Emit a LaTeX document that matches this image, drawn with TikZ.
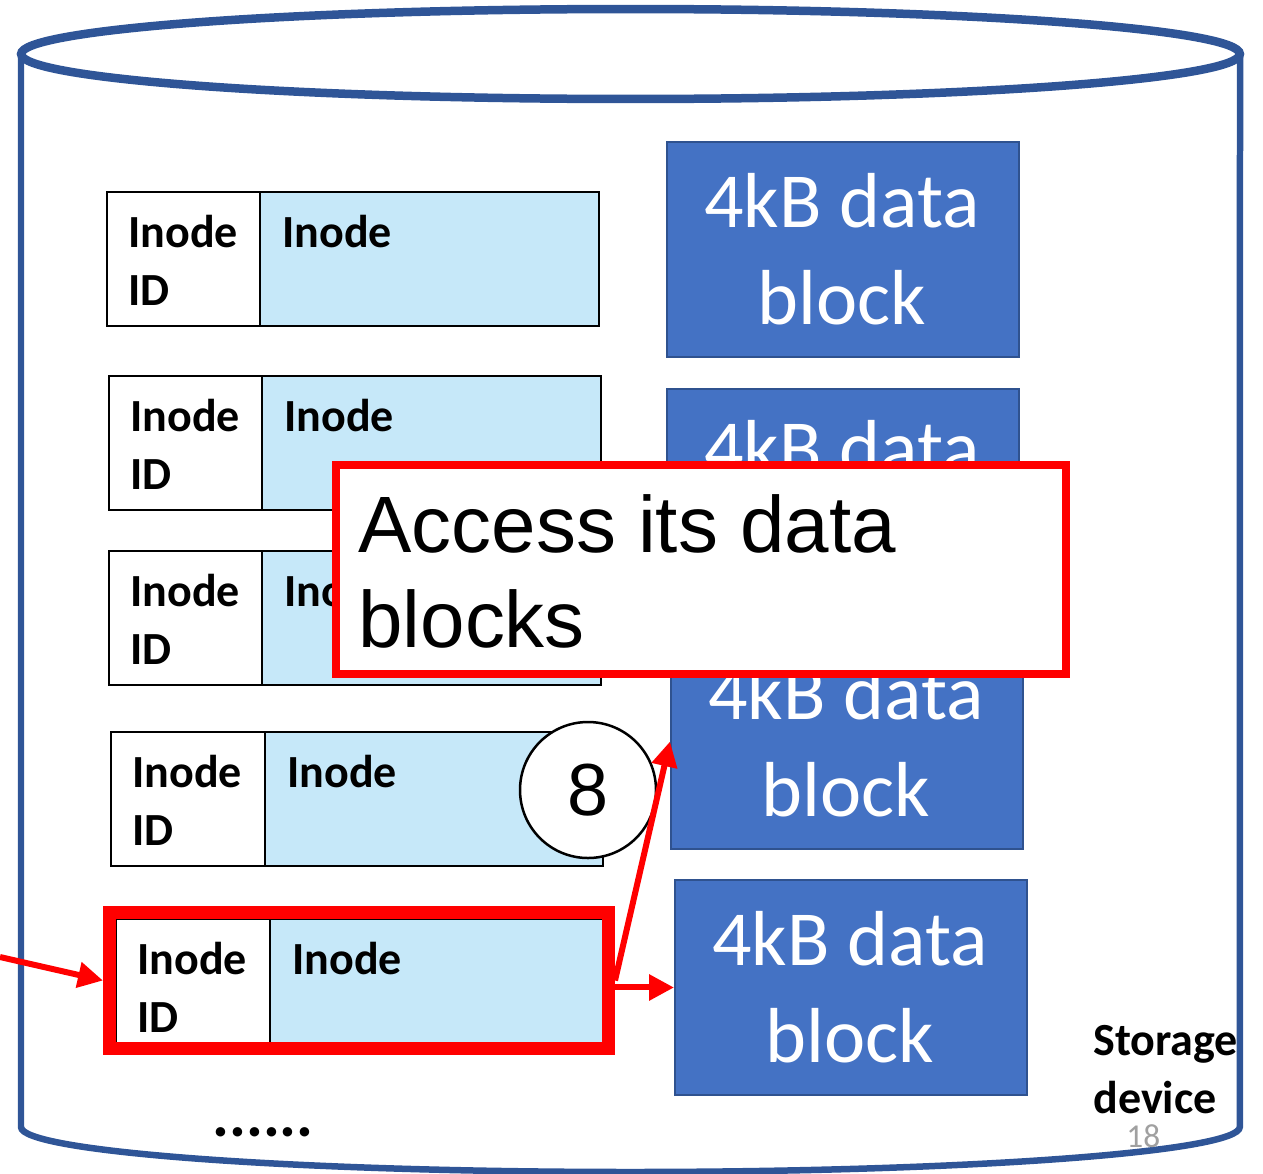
\documentclass[tikz,border=0pt]{standalone}
\usepackage{fontspec}
\setmainfont{Carlito}
\newfontfamily\arialfont{Liberation Sans}
\usetikzlibrary{arrows.meta,calc}
\definecolor{drumblue}{HTML}{2F5597}
\definecolor{blockfill}{HTML}{4472C4}
\definecolor{blockedge}{HTML}{2F528F}
\definecolor{inodefill}{HTML}{C6E8F9}
\definecolor{pagegray}{HTML}{A0A0A0}

\newcommand\fsz[1]{\fontsize{#1pt}{#1pt}\selectfont}

% one inode entry: name, left x, divider x, right x, top y, bottom y
\newcommand\inoderow[6]{%
  \node[idcell, minimum width={(#3-#2)*0.02cm}, minimum height={(#6-#5)*0.02cm}] (#1id) at (#2,#5) {};
  \node[bodycell, minimum width={(#4-#3)*0.02cm}, minimum height={(#6-#5)*0.02cm}] (#1body) at (#3,#5) {};
  \node[cellword] (#1a) at (#2+21,#5+55) {Inode};
  \node[cellword] (#1b) at (#2+21,#5+113) {ID};
  \node[cellword] (#1c) at (#3+22,#5+55) {Inode};
}

% one data block: name, left x, top y
\newcommand\datablock[3]{%
  \node[blockbox] (#1) at (#2,#3) {};
  \node[blocktext] (#1top) at (#2+176,#3+86) {4kB data};
  \node[blocktext] (#1bot) at (#2+176,#3+183) {block};
}

\begin{document}
\begin{tikzpicture}[x=0.02cm, y=-0.02cm,
  cell/.style={draw=black, line width=0.05cm, anchor=north west, inner sep=0pt, outer sep=0pt},
  idcell/.style={cell, fill=white},
  bodycell/.style={cell, fill=inodefill},
  cellword/.style={anchor=base west, inner sep=0pt, font=\bfseries\fsz{26.2}},
  blockbox/.style={draw=blockedge, line width=0.04cm, fill=blockfill, anchor=north west,
    inner sep=0pt, minimum width=7.04cm, minimum height=4.3cm},
  blocktext/.style={anchor=base, inner sep=0pt, text=white, font=\fsz{44.4}},
  redarrow/.style={draw=red, line width=0.12cm, -{Triangle[length=0.5cm, width=0.5cm]}},
]
\useasboundingbox (0,0) rectangle (1263,1173);

% storage device drum
\draw[drumblue, line width=0.13cm]
  (21,54) -- (21,1127) arc[start angle=180, end angle=360, x radius=12.19cm, y radius=0.9cm]
  -- (1240,54);
\draw[drumblue, line width=0.17cm] (630.5,54) ellipse[x radius=12.19cm, y radius=0.9cm];

% inode table
\inoderow{ra}{107}{260}{599}{192}{326}
\inoderow{rb}{109}{262}{601}{376}{510}
\inoderow{rc}{109}{262}{601}{551}{685}
\inoderow{rd}{111}{265}{603}{732}{866}
\inoderow{re}{116}{270}{603}{919}{1043}

% highlighted inode (placed by its outer edge)
\node[draw=red, line width=0.26cm, anchor=north west, inner sep=0pt,
  minimum width={499*0.02cm}, minimum height={136*0.02cm}] (sel) at (103,906) {};

% data blocks
\datablock{ba}{666}{141}
\datablock{bb}{666}{388}
\datablock{bc}{670}{633}
\datablock{bd}{674}{879}

% step marker
\node[circle, draw=black, line width=0.05cm, fill=white, inner sep=0pt,
  minimum size={136*0.02cm}, font=\arialfont\fsz{42}] (stepeight) at (588,790) {8};

% pointers
\coordinate (entry) at (0,957);
\draw[redarrow] (entry) -- (sel.west);
\draw[redarrow] (sel.east) -- (bc.west);
\draw[redarrow] (sel.east |- bd.west) -- (bd.west);

% callout (placed by its outer edge)
\node[draw=red, line width=0.16cm, fill=white, anchor=north west, inner sep=0pt,
  minimum width={730*0.02cm}, minimum height={209*0.02cm}] (note) at (332,461) {};
\node[anchor=base west, inner sep=0pt, font=\arialfont\fsz{45.5}] (notea) at (358,552) {Access its data};
\node[anchor=base west, inner sep=0pt, font=\arialfont\fsz{45.5}] (noteb) at (358,647) {blocks};

% captions
\node[anchor=base west, inner sep=0pt, font=\bfseries\fsz{36}] (more) at (212,1136) {......};
\node[cellword] (storagea) at (1093,1055) {Storage};
\node[cellword] (storageb) at (1093,1113) {device};
\node[anchor=base west, inner sep=0pt, text=pagegray, font=\fsz{19}] (pageno) at (1126,1147) {18};
\end{tikzpicture}
\end{document}
